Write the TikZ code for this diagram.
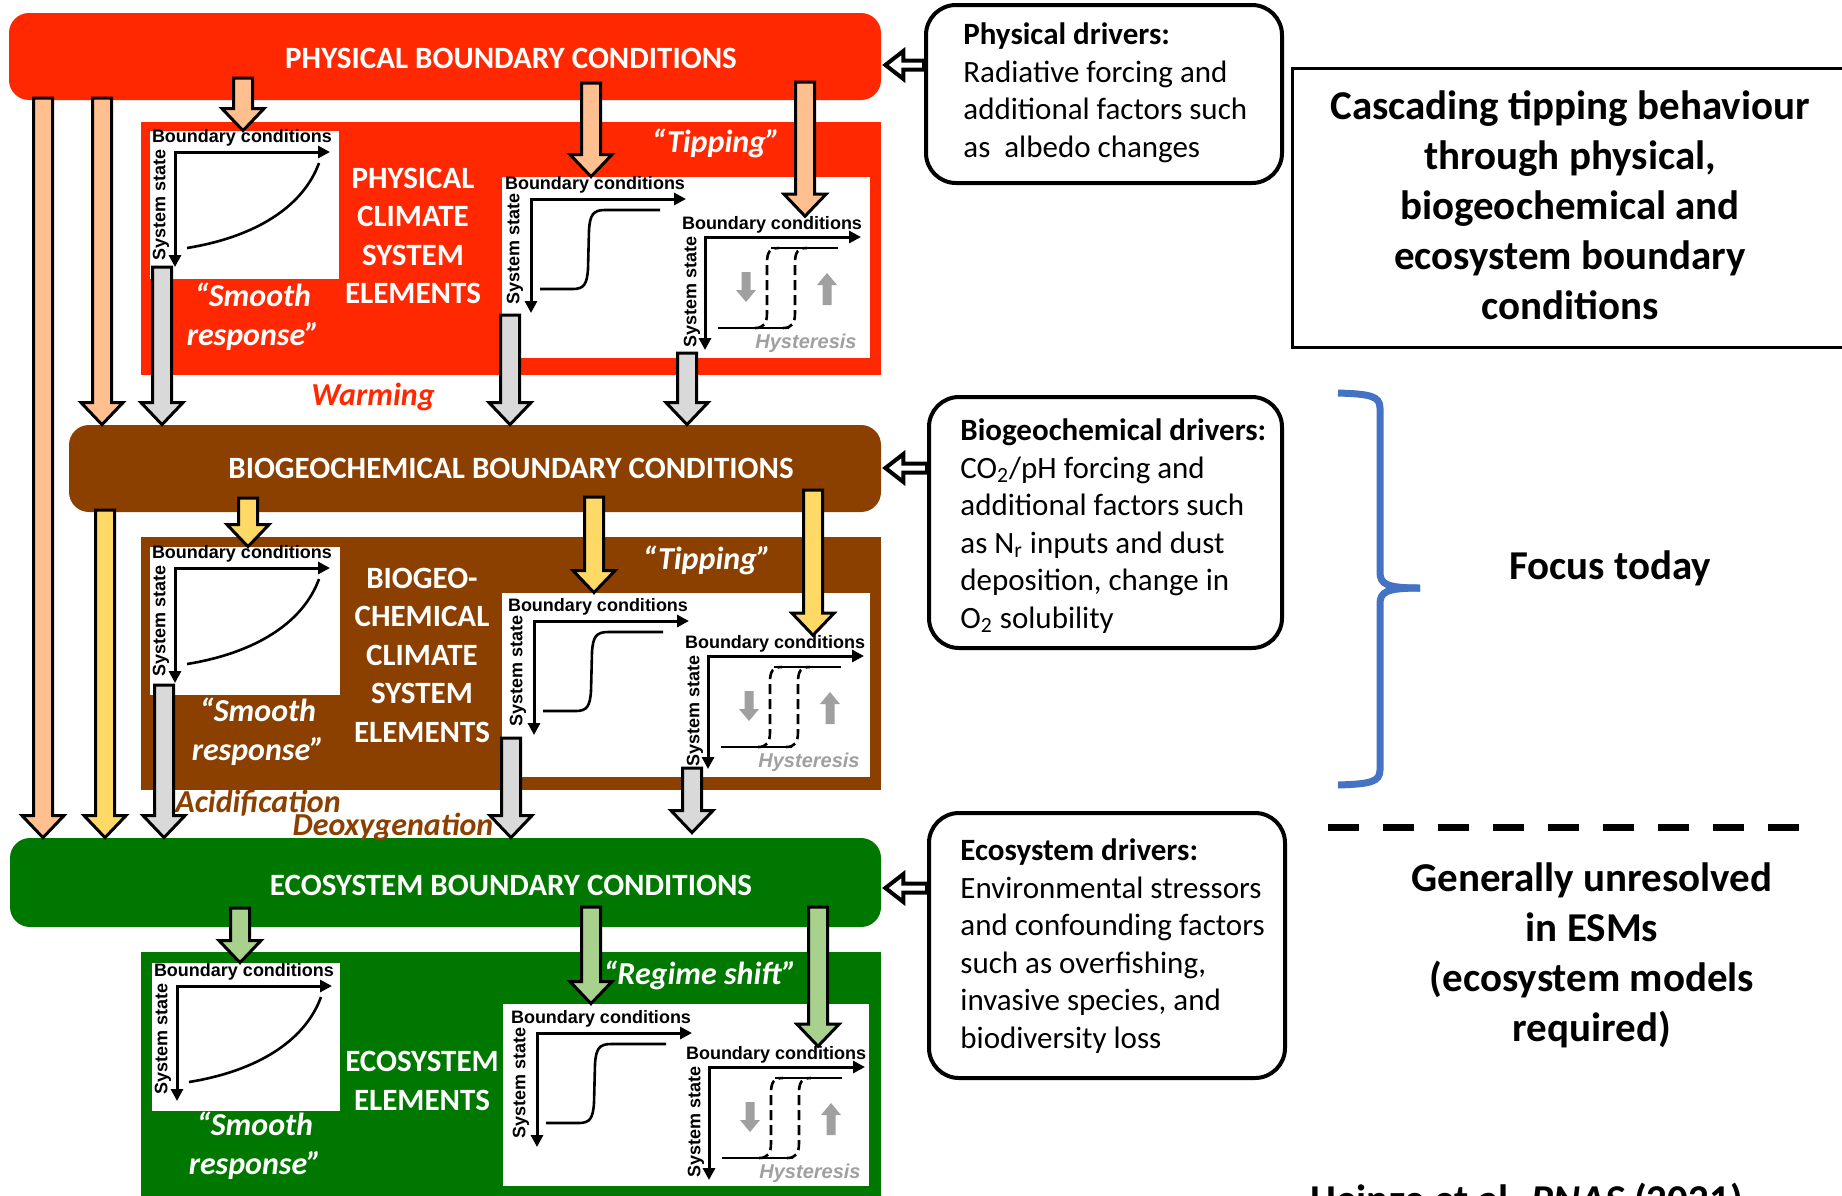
\documentclass[tikz,border=0pt]{standalone}
\usepackage{fontspec}
\setmainfont{Carlito}
\newfontfamily\arialfont{Liberation Sans}
\usetikzlibrary{arrows.meta,calc,fit}

\definecolor{physred}{RGB}{255,40,0}
\definecolor{biobrown}{RGB}{139,64,0}
\definecolor{ecogreen}{RGB}{0,120,0}
\definecolor{salmon}{RGB}{255,191,143}
\definecolor{sunyellow}{RGB}{255,217,102}
\definecolor{leafgreen}{RGB}{169,209,142}
\definecolor{arrgrey}{RGB}{217,217,217}
\definecolor{hystgrey}{RGB}{160,160,160}
\definecolor{bracebl}{RGB}{68,114,196}

% block arrow pointing down: fill, start, tip
\newcommand{\blockdown}[3]{%
  \draw[blockarr, fill=#1] let \p1=(#2), \p2=(#3) in
    (\x1-4.75pt,\y1) -- (\x1+4.75pt,\y1) -- (\x1+4.75pt,\y2+11pt) -- (\x1+10.5pt,\y2+11pt)
    -- (\x1,\y2) -- (\x1-10.5pt,\y2+11pt) -- (\x1-4.75pt,\y2+11pt) -- cycle;
}
% open arrow pointing left: tail, tip
\newcommand{\openleft}[2]{%
  \draw[openarr] let \p1=(#1), \p2=(#2) in
    (\x2,\y2) -- (\x2+9pt,\y2+7pt) -- (\x2+9pt,\y2+2.25pt) -- (\x1,\y2+2.25pt)
    -- (\x1,\y2-2.25pt) -- (\x2+9pt,\y2-2.25pt) -- (\x2+9pt,\y2-7pt) -- cycle;
}

\tikzset{
  bar/.style={inner sep=0pt, rounded corners=10pt},
  panel/.style={inner sep=0pt},
  plotbox/.style={inner sep=0pt, fill=white},
  drvbox/.style={draw, line width=2pt, rounded corners=15pt, inner sep=0pt},
  bartxt/.style={text=white, font=\bfseries\fontsize{15.5}{19}\selectfont},
  elemtxt/.style={text=white, align=center, font=\bfseries\fontsize{15.5}{19.25}\selectfont},
  quotetxt/.style={align=center, font=\bfseries\itshape\fontsize{16}{19.5}\selectfont},
  drvtxt/.style={anchor=base west, align=left, inner sep=0pt, font=\fontsize{15.5}{18.75}\selectfont},
  bigtxt/.style={align=center, font=\bfseries\fontsize{20.5}{25}\selectfont},
  bclab/.style={inner sep=0pt, font=\arialfont\bfseries\fontsize{9}{10}\selectfont},
  sslab/.style={bclab, rotate=90},
  hystlab/.style={inner sep=0pt, text=hystgrey, font=\arialfont\bfseries\itshape\fontsize{10}{12}\selectfont},
  axisline/.style={line width=1.5pt, {Triangle[length=6pt,width=6pt]}-{Triangle[length=6pt,width=6pt]}},
  curveline/.style={line width=1.3pt},
  hystdash/.style={dash pattern=on 5pt off 2.5pt},
  blockarr/.style={draw, line width=1.5pt},
  openarr/.style={draw, fill=white, line width=2pt},
  smoothplot/.pic={
    \draw[axisline] (155,0) -- (0,0) -- (0,115);
    \node[bclab] (-bc) at (67,-14) {Boundary conditions};
    \node[sslab] (-ss) at (-14,53) {System state};
    \draw[curveline] (12,96) .. controls (80,85) and (128,55) .. (144,11);
  },
  tipplot/.pic={
    \draw[axisline] (155,0) -- (0,0) -- (0,114);
    \node[bclab] (-bc) at (64,-14) {Boundary conditions};
    \node[sslab] (-ss) at (-16,50) {System state};
    \draw[curveline] (9,90) -- (42,90) .. controls (53,90) and (56,85) .. (57,70) -- (58,31)
      .. controls (59,16) and (62,11) .. (74,11) -- (129,11);
  },
  hystplot/.pic={
    \draw[axisline] (156,0) -- (0,0) -- (0,113);
    \node[bclab] (-bc) at (67,-12) {Boundary conditions};
    \node[sslab] (-ss) at (-13,55) {System state};
    \draw[curveline] (13,91) -- (84,91);
    \draw[curveline] (66,11) -- (133,11);
    \draw[curveline, hystdash] (50,91) .. controls (59,91) and (62,86) .. (62,76) -- (62,26)
      .. controls (62,15) and (65,11) .. (74,11);
    \draw[curveline, hystdash] (78,91) .. controls (87,91) and (90,86) .. (90,76) -- (90,26)
      .. controls (90,15) and (93,11) .. (102,11);
    \fill[hystgrey] (36.5,35) -- (45.5,35) -- (45.5,53) -- (51,53) -- (41,65) -- (31,53) -- (36.5,53) -- cycle;
    \fill[hystgrey] (117.5,68) -- (126.5,68) -- (126.5,48) -- (132,48) -- (122,36) -- (112,48) -- (117.5,48) -- cycle;
    \node[hystlab] (-hy) at (101,106) {Hysteresis};
  },
}

\begin{document}
\begin{tikzpicture}[x=0.5pt,y=-0.5pt]
    \path[use as bounding box, clip] (0,0) rectangle (1842,1195);

    \node[bar, fill=physred, fit={(9,13) (881,100)}] (physbar) {};
    \node[bar, fill=biobrown, fit={(69,425) (881,512)}] (biobar) {};
    \node[bar, fill=ecogreen, fit={(10,838) (881,927)}] (ecobar) {};
    \node[bartxt] (physbar-t) at (511,58) {PHYSICAL BOUNDARY CONDITIONS};
    \node[bartxt] (biobar-t) at (511,468) {BIOGEOCHEMICAL BOUNDARY CONDITIONS};
    \node[bartxt] (ecobar-t) at (511,885) {ECOSYSTEM BOUNDARY CONDITIONS};

    \node[panel, fill=physred, fit={(141,122) (881,375)}] (physpanel) {};
    \node[panel, fill=biobrown, fit={(141,537) (881,790)}] (biopanel) {};
    \node[panel, fill=ecogreen, fit={(141,952) (881,1210)}] (ecopanel) {};

    \node[plotbox, fit={(150,131) (339,279)}] (pbox1) {};
    \node[plotbox, fit={(150,547) (340,695)}] (pbox2) {};
    \node[plotbox, fit={(152,963) (340,1111)}] (pbox3) {};
    \node[plotbox, fit={(502,177) (870,358)}] (tbox1) {};
    \node[plotbox, fit={(502,593) (870,777)}] (tbox2) {};
    \node[plotbox, fit={(503,1004) (869,1186)}] (tbox3) {};

    \pic (sp1) at (175,152) {smoothplot};
    \pic (sp2) at (175,568) {smoothplot};
    \pic (sp3) at (177,986) {smoothplot};
    \pic (tp1) at (531,199) {tipplot};
    \pic (tp2) at (534,621) {tipplot};
    \pic (tp3) at (537,1033) {tipplot};
    \pic (hp1) at (705,237) {hystplot};
    \pic (hp2) at (708,656) {hystplot};
    \pic (hp3) at (709,1067) {hystplot};

    \node[elemtxt] (physel) at (413,236) {PHYSICAL\\CLIMATE\\SYSTEM\\ELEMENTS};
    \node[elemtxt] (bioel) at (422,655) {BIOGEO-\\CHEMICAL\\CLIMATE\\SYSTEM\\ELEMENTS};
    \node[elemtxt] (ecoel) at (422,1081) {ECOSYSTEM\\ELEMENTS};
    \node[quotetxt, text=white] (smooth1) at (253,317) {“Smooth\\response”};
    \node[quotetxt, text=white] (smooth2) at (258,732) {“Smooth\\response”};
    \node[quotetxt, text=white] (smooth3) at (255,1146) {“Smooth\\response”};
    \node[quotetxt, text=white] (tip1) at (716,143) {“Tipping”};
    \node[quotetxt, text=white] (tip2) at (707,560) {“Tipping”};
    \node[quotetxt, text=white] (regime) at (700,975) {“Regime shift”};
    \node[quotetxt, text=physred] (warm) at (373,397) {Warming};
    \node[quotetxt, text=biobrown] (acid) at (258,803) {Acidification};
    \node[quotetxt, text=biobrown] (deox) at (393,827) {Deoxygenation};

    \coordinate (a1) at (43,98);
    \coordinate (a2) at (102,98);
    \coordinate (y0) at (105,510);
    \blockdown{salmon}{a1}{a1 |- ecobar.north}
    \blockdown{salmon}{a2}{a2 |- biobar.north}
    \blockdown{sunyellow}{y0}{y0 |- ecobar.north}

    \coordinate (s1) at (243,78);
    \coordinate (s2) at (591,83);
    \coordinate (s3) at (805,82);
    \blockdown{salmon}{s1}{s1 |- pbox1.north}
    \blockdown{salmon}{s2}{s2 |- tbox1.north}
    \blockdown{salmon}{s3}{s3 |- hp1-bc.north}
    \coordinate (y1) at (248,498);
    \coordinate (y2) at (594,497);
    \coordinate (y3) at (813,490);
    \blockdown{sunyellow}{y1}{y1 |- pbox2.north}
    \blockdown{sunyellow}{y2}{y2 |- tbox2.north}
    \blockdown{sunyellow}{y3}{y3 |- hp2-bc.north}
    \coordinate (e1) at (240,908);
    \coordinate (e2) at (591,907);
    \coordinate (e3) at (818,907);
    \blockdown{leafgreen}{e1}{e1 |- pbox3.north}
    \blockdown{leafgreen}{e2}{e2 |- tbox3.north}
    \blockdown{leafgreen}{e3}{e3 |- hp3-bc.north}

    \coordinate (g1) at (162,267);
    \coordinate (g2) at (510,315);
    \coordinate (g3) at (687,353);
    \coordinate (g4) at (164,685);
    \coordinate (g5) at (511,738);
    \coordinate (g6) at (692,768);
    \blockdown{arrgrey}{g1}{g1 |- biobar.north}
    \blockdown{arrgrey}{g2}{g2 |- biobar.north}
    \blockdown{arrgrey}{g3}{g3 |- biobar.north}
    \blockdown{arrgrey}{g4}{g4 |- ecobar.north}
    \blockdown{arrgrey}{g5}{g5 |- ecobar.north}
    \blockdown{arrgrey}{g6}{$(g6 |- ecobar.north)+(0,-5)$}

    \node[drvbox, fit={(926,5) (1282,183)}] (physdrv) {};
    \node[drvbox, fit={(929,397) (1282,648)}] (biodrv) {};
    \node[drvbox, fit={(929,813) (1285,1078)}] (ecodrv) {};
    \node[drvtxt] (physdrv-t) at (963,157) {\textbf{Physical drivers:}\\Radiative forcing and\\additional factors such\\as~~albedo changes};
    \node[drvtxt] (biodrv-t) at (960,628) {\textbf{Biogeochemical drivers:}\\CO\textsubscript{2}/pH forcing and\\additional factors such\\as N\textsubscript{r} inputs and dust\\deposition, change in\\O\textsubscript{2} solubility};
    \node[drvtxt] (ecodrv-t) at (960,1048) {\textbf{Ecosystem drivers:}\\Environmental stressors\\and confounding factors\\such as overfishing,\\invasive species, and\\biodiversity loss};

    \coordinate (pd) at (physdrv.west |- 0,65);
    \coordinate (bd) at (biodrv.west |- 0,468);
    \coordinate (ed) at (ecodrv.west |- 0,888);
    \openleft{pd}{$(pd -| physbar.east)+(4,0)$}
    \openleft{bd}{$(bd -| biobar.east)+(4,0)$}
    \openleft{ed}{$(ed -| ecobar.east)+(4,0)$}

    \node[draw, line width=1.5pt, inner sep=0pt, fit={(1292,68) (1870,347)}] (titlebox) {};
    \node[bigtxt] (title) at (1570,205) {Cascading tipping behaviour\\through physical,\\biogeochemical and\\ecosystem boundary\\conditions};

    \draw[bracebl, line width=3.5pt] (1338,393) .. controls (1370,394) and (1380,396) .. (1380,408)
      -- (1380,572) .. controls (1380,584) and (1386,588) .. (1420,588);
    \draw[bracebl, line width=3.5pt] (1420,588) .. controls (1386,588) and (1380,592) .. (1380,604)
      -- (1380,770) .. controls (1380,782) and (1370,784) .. (1338,785);
    \node[bigtxt] (focus) at (1610,568) {Focus today};

    \draw[line width=3.5pt, dash pattern=on 15.5pt off 12pt] (1328,827) -- (1806,827);
    \node[bigtxt] (esm) at (1592,955) {Generally unresolved\\in ESMs\\(ecosystem models\\required)};
    \node[bigtxt, anchor=base west, inner sep=0pt] (cite) at (1310,1213) {Heinze et al. \textit{PNAS} (2021)};
\end{tikzpicture}
\end{document}
